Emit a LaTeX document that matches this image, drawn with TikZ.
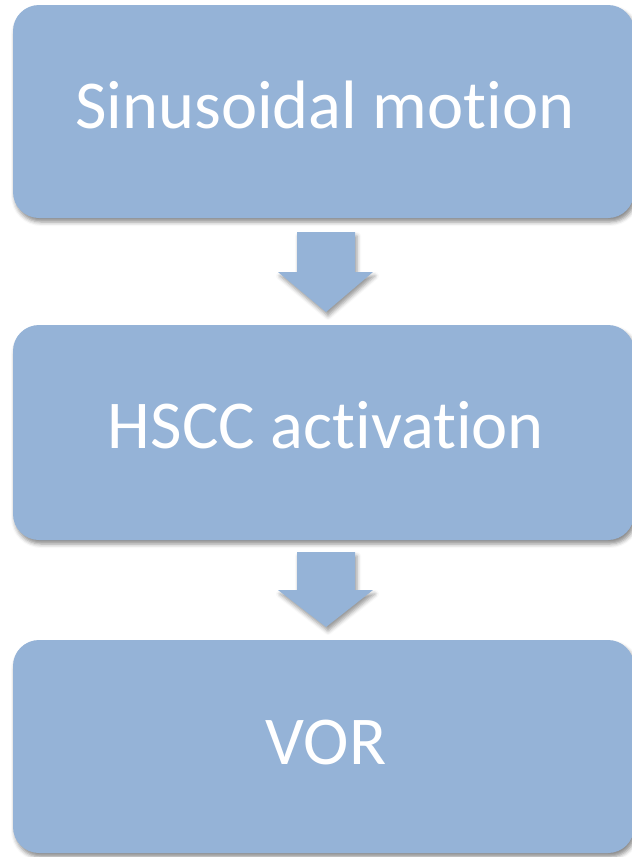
\documentclass[tikz,border=0pt]{standalone}
\usepackage{fontspec}
\setmainfont{Carlito}[Ligatures=NoCommon]
\usetikzlibrary{shadows.blur}
\definecolor{boxblue}{HTML}{95B3D7}
\tikzset{
  px/.style={x=1pt,y=-1pt},
  stagebox/.style={fill=boxblue, draw=none, rounded corners=26pt,
    blur shadow={shadow xshift=2pt, shadow yshift=-4pt, shadow blur radius=4pt, shadow opacity=45}},
  downarrow/.style={fill=boxblue, draw=none,
    blur shadow={shadow xshift=2pt, shadow yshift=-4pt, shadow blur radius=4pt, shadow opacity=40}},
  stagelabel/.style={text=white, anchor=base, inner sep=0pt, font=\fontsize{68.5}{80}\selectfont}
}
\begin{document}
\begin{tikzpicture}[px]
\useasboundingbox (0,0) rectangle (632,857);
% three stages
\path[stagebox] (13,5) rectangle (634,218);
\path[stagebox] (13,325) rectangle (634,540);
\path[stagebox] (13,640) rectangle (634,853);
% block arrows between the stages
\path[downarrow] (297,232) -- (355,232) -- (355,272) -- (373,272) -- (326,312)
  -- (278,272) -- (297,272) -- cycle;
\path[downarrow] (297,552) -- (355,552) -- (355,590) -- (373,590) -- (326,627)
  -- (278,590) -- (297,590) -- cycle;
% labels
\node[stagelabel] (s1) at (325,128) {Sinusoidal motion};
\node[stagelabel] (s2) at (326,448) {HSCC activation};
\node[stagelabel] (s3) at (326,764) {VOR};
\end{tikzpicture}
\end{document}
